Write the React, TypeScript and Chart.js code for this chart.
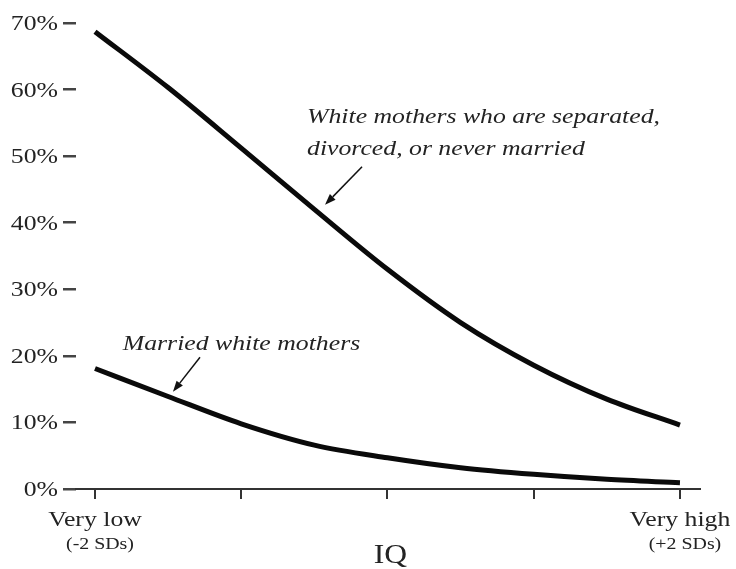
import React, { useEffect, useRef } from 'react';
import { Chart, registerables } from 'chart.js';

Chart.register(...registerables);

// IQ in standard deviations from the mean
const iqSD = [-2, -1.5, -1, -0.5, 0, 0.5, 1, 1.5, 2];
// White mothers who are separated, divorced, or never married (%)
const unmarriedMothers = [68.7, 60.3, 51.2, 42.0, 33.0, 25.0, 18.6, 13.5, 9.6];
// Married white mothers (%)
const marriedMothers = [18.1, 13.9, 9.8, 6.6, 4.7, 3.2, 2.2, 1.45, 0.95];

const yTickValues = [0, 10, 20, 30, 40, 50, 60, 70];
const yTickLabels = ['0%', '10%', '20%', '30%', '40%', '50%', '60%', '70%'];
const xTickValues = [-2, -1, 0, 1, 2];
const xTickLabels = ['Very low', '', '', '', 'Very high'];
const xTickSubLabels = ['(-2 SDs)', '', '', '', '(+2 SDs)'];
const xTitle = 'IQ';

const labelTexts = [
  ['White mothers who are separated,', 'divorced, or never married'],
  ['Married white mothers'],
];
// anchor of each label (left edge, first baseline) in data units
const labelAnchorX = [-0.55, -1.81];
const labelAnchorY = [55.0, 20.9];

// arrows: tail and tip in data units
const arrowFromX = [-0.174, -1.282];
const arrowFromY = [48.4, 19.8];
const arrowToX = [-0.427, -1.467];
const arrowToY = [42.7, 14.6];

const SERIF = '"Liberation Serif", "Times New Roman", serif';
const TEXT = '#232323';
const STRETCH = 1.17;

function stretchedText(ctx: any, t: string, x: number, y: number, align: 'left' | 'center' | 'right') {
  ctx.save();
  ctx.textAlign = align;
  ctx.translate(x, y);
  ctx.scale(STRETCH, 1);
  ctx.fillText(t, 0, 0);
  ctx.restore();
}

const annotationPlugin = {
  id: 'annotations',
  afterDraw(chart: any) {
    const ctx = chart.ctx;
    const xs = chart.scales.x;
    const ys = chart.scales.y;
    const { bottom, left } = chart.chartArea;
    ctx.save();
    ctx.fillStyle = TEXT;
    ctx.textBaseline = 'alphabetic';
    // y tick labels
    ctx.font = `22px ${SERIF}`;
    yTickValues.forEach((v, i) => {
      const py = ys.getPixelForValue(v);
      stretchedText(ctx, yTickLabels[i], left - 18, py + 7, 'right');
    });
    // x tick labels with sublabels
    xTickValues.forEach((v, i) => {
      const px = xs.getPixelForValue(v);
      if (xTickLabels[i]) {
        ctx.font = `22px ${SERIF}`;
        stretchedText(ctx, xTickLabels[i], px, bottom + 37, 'center');
      }
      if (xTickSubLabels[i]) {
        ctx.font = `17px ${SERIF}`;
        stretchedText(ctx, xTickSubLabels[i], px + 5, bottom + 60, 'center');
      }
    });
    // x title
    ctx.font = `27px ${SERIF}`;
    stretchedText(ctx, xTitle, xs.getPixelForValue(0) + 3, bottom + 74, 'center');
    // italic labels
    ctx.font = `italic 22px ${SERIF}`;
    labelTexts.forEach((lines, i) => {
      const px = xs.getPixelForValue(labelAnchorX[i]);
      const py = ys.getPixelForValue(labelAnchorY[i]);
      lines.forEach((t, j) => stretchedText(ctx, t, px, py + j * 32, 'left'));
    });
    // arrows
    ctx.strokeStyle = '#111';
    ctx.fillStyle = '#111';
    ctx.lineWidth = 1.5;
    arrowFromX.forEach((_, i) => {
      const x1 = xs.getPixelForValue(arrowFromX[i]);
      const y1 = ys.getPixelForValue(arrowFromY[i]);
      const x2 = xs.getPixelForValue(arrowToX[i]);
      const y2 = ys.getPixelForValue(arrowToY[i]);
      const ang = Math.atan2(y2 - y1, x2 - x1);
      const hl = 11;
      const hw = 4;
      const bx = x2 - hl * Math.cos(ang);
      const by = y2 - hl * Math.sin(ang);
      ctx.beginPath();
      ctx.moveTo(x1, y1);
      ctx.lineTo(bx, by);
      ctx.stroke();
      ctx.beginPath();
      ctx.moveTo(x2, y2);
      ctx.lineTo(bx + hw * Math.sin(ang), by - hw * Math.cos(ang));
      ctx.lineTo(bx - hw * Math.sin(ang), by + hw * Math.cos(ang));
      ctx.closePath();
      ctx.fill();
    });
    ctx.restore();
  },
};

export default function App() {
  const ref = useRef<HTMLCanvasElement>(null);
  useEffect(() => {
    if (!ref.current) return;
    const chart = new Chart(ref.current, {
      type: 'line',
      data: {
        datasets: [
          {
            label: 'White mothers who are separated, divorced, or never married',
            data: iqSD.map((x, i) => ({ x, y: unmarriedMothers[i] })),
            borderColor: '#0a0a0a',
            borderWidth: 5,
            pointRadius: 0,
            cubicInterpolationMode: 'monotone',
            fill: false,
          },
          {
            label: 'Married white mothers',
            data: iqSD.map((x, i) => ({ x, y: marriedMothers[i] })),
            borderColor: '#0a0a0a',
            borderWidth: 5,
            pointRadius: 0,
            cubicInterpolationMode: 'monotone',
            fill: false,
          },
        ],
      },
      options: {
        responsive: false,
        animation: false,
        clip: false as any,
        layout: { padding: { top: 23, right: 36, bottom: 0, left: 0 } },
        plugins: { legend: { display: false }, tooltip: { enabled: false } },
        scales: {
          x: {
            type: 'linear',
            min: -2.13,
            max: 2.137,
            afterBuildTicks: (s: any) => {
              s.ticks = xTickValues.map((v) => ({ value: v }));
            },
            afterFit: (s: any) => {
              s.height = 80;
            },
            border: { display: true, color: '#333', width: 2 },
            grid: { display: true, drawOnChartArea: false, drawTicks: true, tickLength: 10, color: '#333', lineWidth: 2 },
            ticks: { display: false },
            title: { display: false },
          },
          y: {
            min: 0,
            max: 70,
            afterBuildTicks: (s: any) => {
              s.ticks = yTickValues.map((v) => ({ value: v }));
            },
            afterFit: (s: any) => {
              s.width = 76;
            },
            border: { display: false },
            grid: { display: true, drawOnChartArea: false, drawTicks: true, tickLength: 13, color: '#444', lineWidth: 2.5 },
            ticks: { display: false },
          },
        },
      },
      plugins: [annotationPlugin],
    });
    return () => chart.destroy();
  }, []);
  return (
    <div style={{ position: 'fixed', left: 0, top: 0, width: 736, height: 569, background: '#fff' }}>
      <canvas ref={ref} width={736} height={569} />
    </div>
  );
}
